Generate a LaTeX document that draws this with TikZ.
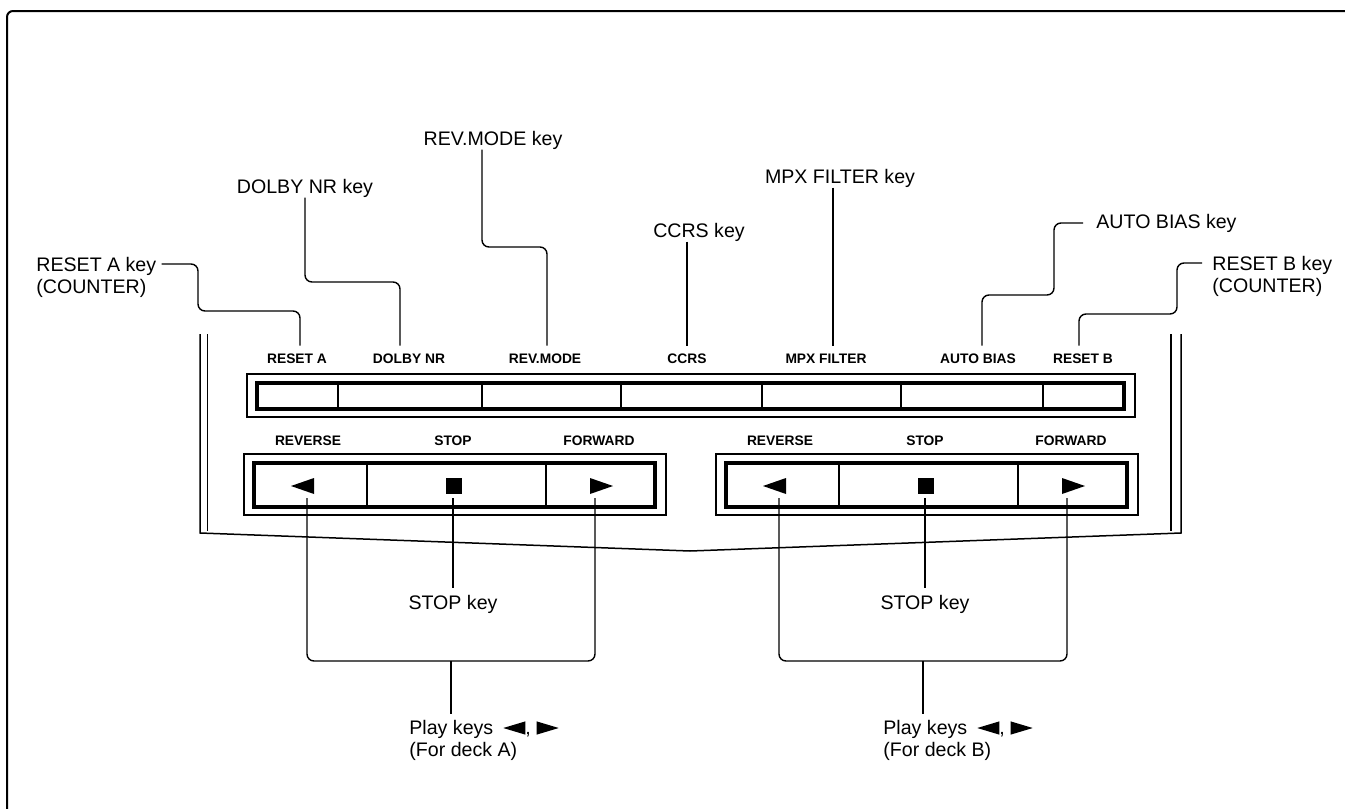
\documentclass[tikz,border=0pt]{standalone}
\usepackage{fontspec}
\setmainfont{Liberation Sans}
\newcommand\ltri{\tikz[baseline=0pt,x=1pt,y=1pt]\fill (0,3.3) -- (11,6.6) -- (11,0) -- cycle;}
\newcommand\rtri{\tikz[baseline=0pt,x=1pt,y=1pt]\fill (11,3.3) -- (0,6.6) -- (0,0) -- cycle;}
\begin{document}
\begin{tikzpicture}[x=0.5pt,y=-0.5pt,
  lbl/.style={font=\fontsize{9.8}{11}\selectfont, inner sep=0pt, align=left},
  keylbl/.style={font=\fontsize{6.9}{8}\selectfont\bfseries, inner sep=0pt},
  lead/.style={line width=0.7pt, rounded corners=3.5pt},
  tokey/.style={shorten >=4pt},
  frameline/.style={line width=1pt, rounded corners=3pt},
  thinbox/.style={line width=0.6pt},
  thickbox/.style={line width=1.6pt},
  divider/.style={line width=0.6pt},
  side/.style={line width=0.75pt}]
\clip (0,0) rectangle (1345,809);
\fill[white] (0,0) rectangle (1345,809);
\draw[frameline] (7,830) -- (7,11) -- (1360,11);

% ---- top labels
\node[lbl, anchor=north west] (lRA) at (36,257) {RESET A key\\(COUNTER)};
\node[lbl] (lDN) at (305,188) {DOLBY NR key};
\node[lbl] (lRM) at (493,140) {REV.MODE key};
\node[lbl] (lCC) at (699,232) {CCRS key};
\node[lbl] (lMF) at (840,178) {MPX FILTER key};
\node[lbl, anchor=west] (lAB) at (1096,223) {AUTO BIAS key};
\node[lbl, anchor=north west] (lRB) at (1212,256) {RESET B key\\(COUNTER)};

% ---- key labels on the strip
\node[keylbl] (kRA) at (297,359) {RESET A};
\node[keylbl] (kDN) at (409,359) {DOLBY NR};
\node[keylbl] (kRM) at (545,359) {REV.MODE};
\node[keylbl] (kCC) at (687,359) {CCRS};
\node[keylbl] (kMF) at (826,359) {MPX FILTER};
\node[keylbl] (kAB) at (978,359) {AUTO BIAS};
\node[keylbl] (kRB) at (1083,359) {RESET B};

% ---- leaders
\draw[lead, tokey] ([xshift=2.5pt,yshift=-3.5pt]lRA.north east) -- (198,264) -- (198,311) -- (300,311) -- (300,311 |- kRA.north);
\draw[lead, tokey] (lDN.south) -- (305,282) -- (400,282) -- (400,282 |- kDN.north);
\draw[lead, tokey] (lRM.south -| 482,0) -- (482,247) -- (547,247) -- (547,247 |- kRM.north);
\draw[lead, tokey] (lCC.south -| 687,0) -- (687,0 |- kCC.north);
\draw[lead, tokey] (lMF.south -| 833,0) -- (833,0 |- kMF.north);
\draw[lead, tokey] ([xshift=-6.5pt]lAB.west) -- (1054,223) -- (1054,295) -- (982,295) -- (982,295 |- kAB.north);
\draw[lead, tokey] ([xshift=-5pt,yshift=-3.5pt]lRB.north west) -- (1177,263) -- (1177,314) -- (1079,314) -- (1079,314 |- kRB.north);

% ---- key strip
\draw[thinbox] (247,374) rectangle (1135,417);
\draw[thickbox] (257,383) rectangle (1124,409);
\foreach \x in {338,482,621,762,901,1043} \draw[divider] (\x,383) -- (\x,409);

% ---- deck panels
\foreach \d/\n in {0/A,472/B} {
  \draw[thinbox] (244+\d,454) rectangle (666+\d,515);
  \draw[thickbox] (254+\d,463) rectangle (655+\d,507);
  \draw[divider] (367+\d,463) -- (367+\d,507);
  \draw[divider] (546+\d,463) -- (546+\d,507);
  \fill (291+\d,486) -- (314+\d,478) -- (314+\d,494) -- cycle;
  \fill (446+\d,478) rectangle (462+\d,494);
  \fill (613+\d,486) -- (590+\d,478) -- (590+\d,494) -- cycle;
  \node[keylbl] (rev\n) at (308+\d,441) {REVERSE};
  \node[keylbl] (stp\n) at (453+\d,441) {STOP};
  \node[keylbl] (fwd\n) at (599+\d,441) {FORWARD};
  \coordinate (aR\n) at (307+\d,498);
  \coordinate (aS\n) at (453+\d,498);
  \coordinate (aF\n) at (595+\d,498);
  \coordinate (c\n) at (451+\d,661);
}

\node[lbl] (sA) at (453,604) {STOP key};
\node[lbl] (sB) at (925,604) {STOP key};
\node[lbl, anchor=north west] (pA) at (409,720) {Play keys\hspace{5pt}\ltri,\hspace{3pt}\rtri\\(For deck A)};
\node[lbl, anchor=north west] (pB) at (883,720) {Play keys\hspace{5pt}\ltri,\hspace{3pt}\rtri\\(For deck B)};

\draw[lead] (aRA) -- (307,661) -- (595,661) -- (aFA);
\draw[lead] (aRB) -- (779,661) -- (1067,661) -- (aFB);
\draw[lead, shorten >=3pt] (aSA) -- (sA.north -| aSA);
\draw[lead, shorten >=3pt] (aSB) -- (sB.north -| aSB);
\draw[lead, shorten >=3pt] (cA) -- (pA.north -| cA);
\draw[lead, shorten >=3pt] (cB) -- (pB.north -| cB);

% ---- side rails
\draw[side] (200,334) -- (200,533) -- (690,551) -- (1181,533) -- (1181,334);
\draw[side] (207.5,334) -- (207.5,531);
\draw[side] (1171,334) -- (1171,531);
\end{tikzpicture}
\end{document}
